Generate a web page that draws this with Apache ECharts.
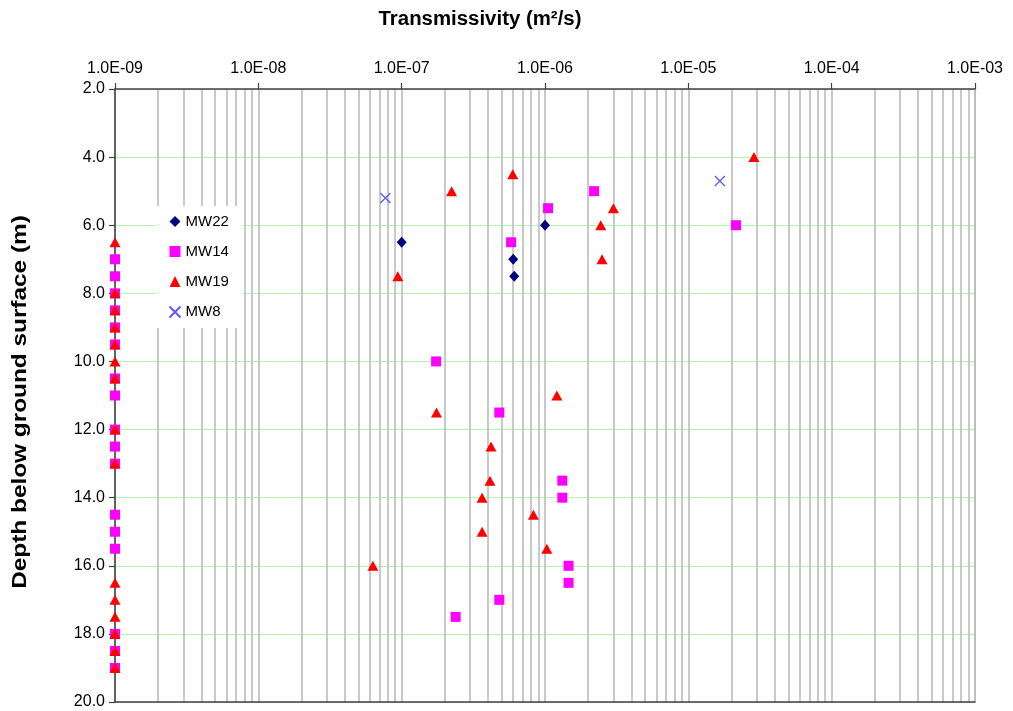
<!DOCTYPE html>
<html>
<head>
<meta charset="utf-8">
<script src="https://cdn.jsdelivr.net/npm/echarts@6/dist/echarts.min.js"></script>
<style>
  html, body { margin: 0; padding: 0; background: #ffffff; }
  #chart { width: 1013px; height: 711px; }
</style>
</head>
<body>
<div id="chart"></div>
<script>
// Decade labels for the transmissivity axis (1e-9 .. 1e-3)
const xTickLabels = ['1.0E-09', '1.0E-08', '1.0E-07', '1.0E-06', '1.0E-05', '1.0E-04', '1.0E-03'];

// [transmissivity (m2/s), depth (m)]
const mw22 = [
  [1.0e-7, 6.5], [6.0e-7, 7.0], [6.1e-7, 7.5], [1.0e-6, 6.0]
];
const mw14 = [
  [2.2e-6, 5.0], [1.05e-6, 5.5], [5.8e-7, 6.5], [2.15e-5, 6.0],
  [1.74e-7, 10.0], [4.8e-7, 11.5], [1.32e-6, 13.5], [1.32e-6, 14.0],
  [1.46e-6, 16.0], [1.46e-6, 16.5], [4.8e-7, 17.0], [2.38e-7, 17.5],
  [1e-9, 7.0], [1e-9, 7.5], [1e-9, 8.0], [1e-9, 8.5], [1e-9, 9.0], [1e-9, 9.5],
  [1e-9, 10.5], [1e-9, 11.0], [1e-9, 12.0], [1e-9, 12.5], [1e-9, 13.0],
  [1e-9, 14.5], [1e-9, 15.0], [1e-9, 15.5], [1e-9, 18.0], [1e-9, 18.5], [1e-9, 19.0]
];
const mw19 = [
  [2.87e-5, 4.0], [5.96e-7, 4.5], [2.23e-7, 5.0], [3.0e-6, 5.5], [2.45e-6, 6.0],
  [2.5e-6, 7.0], [9.4e-8, 7.5], [1.21e-6, 11.0], [1.75e-7, 11.5], [4.2e-7, 12.5],
  [4.13e-7, 13.5], [3.64e-7, 14.0], [8.3e-7, 14.5], [3.64e-7, 15.0], [1.03e-6, 15.5],
  [6.3e-8, 16.0],
  [1e-9, 6.5], [1e-9, 8.0], [1e-9, 8.5], [1e-9, 9.0], [1e-9, 9.5], [1e-9, 10.0],
  [1e-9, 10.5], [1e-9, 12.0], [1e-9, 13.0], [1e-9, 16.5], [1e-9, 17.0], [1e-9, 17.5],
  [1e-9, 18.0], [1e-9, 18.5], [1e-9, 19.0]
];
const mw8 = [
  [7.7e-8, 5.2], [1.66e-5, 4.7]
];

// Depth range of the plot
const depthMin = 2;
const depthMax = 20;

// Intermediate log gridlines: 2..9 within each decade
const minorGrid = [];
for (let e = -9; e < -3; e++) {
  for (let m = 2; m <= 9; m++) minorGrid.push(m * Math.pow(10, e));
}

const FONT = '"Liberation Sans", Arial, sans-serif';
const crossPath = 'path://M0,0L10,10M10,0L0,10';

const chart = echarts.init(document.getElementById('chart'), null, { renderer: 'canvas' });

const axisDark = '#404040';
const gridGrey = '#bcbcbc';

chart.setOption({
  animation: false,
  backgroundColor: '#ffffff',
  textStyle: { fontFamily: FONT },
  grid: { left: 115, right: 38, top: 89, bottom: 9, containLabel: false },
  legend: {
    orient: 'vertical',
    left: 155,
    top: 206,
    itemWidth: 11,
    itemHeight: 11,
    itemGap: 15,
    padding: [8, 14, 8, 12],
    backgroundColor: '#ffffff',
    textStyle: { fontFamily: FONT, fontSize: 15, color: '#000000' },
    data: ['MW22', 'MW14', 'MW19', 'MW8']
  },
  xAxis: [
    {
      type: 'log',
      logBase: 10,
      position: 'top',
      min: 1e-9,
      max: 1e-3,
      axisLine: { show: true, lineStyle: { color: axisDark, width: 1.5 } },
      axisTick: { show: true, inside: false, length: 6, lineStyle: { color: axisDark, width: 1.2 } },
      axisLabel: {
        show: true,
        margin: 12,
        fontSize: 16,
        color: '#000000',
        fontFamily: FONT,
        showMinLabel: true,
        showMaxLabel: true,
        formatter: function (v) {
          const i = Math.round(Math.log10(v)) + 9;
          return xTickLabels[i] || '';
        }
      },
      splitLine: { show: true, lineStyle: { color: gridGrey, width: 1.6 } }
    },
    {
      // plain baseline along the deepest depth
      type: 'log',
      logBase: 10,
      position: 'bottom',
      min: 1e-9,
      max: 1e-3,
      axisLine: { show: true, lineStyle: { color: axisDark, width: 1.5 } },
      axisTick: { show: false },
      axisLabel: { show: false },
      splitLine: { show: false }
    }
  ],
  yAxis: {
    type: 'value',
    inverse: true,
    min: depthMin,
    max: depthMax,
    interval: 2,
    axisLine: { show: true, lineStyle: { color: axisDark, width: 1.5 } },
    axisTick: { show: true, inside: false, length: 6, lineStyle: { color: axisDark, width: 1.2 } },
    axisLabel: {
      margin: 10,
      fontSize: 16,
      color: '#000000',
      fontFamily: FONT,
      formatter: function (v) { return v.toFixed(1); }
    },
    splitLine: { show: true, lineStyle: { color: '#b4f0b4', width: 1.2 } }
  },
  graphic: [
    {
      type: 'text',
      x: 480, y: 19,
      scaleX: 1.02,
      style: {
        text: 'Transmissivity (m²/s)',
        font: 'bold 20px ' + FONT,
        fill: '#000000',
        align: 'center',
        verticalAlign: 'middle'
      }
    },
    {
      type: 'text',
      x: 20, y: 402,
      rotation: Math.PI / 2,
      scaleX: 1.16,
      style: {
        text: 'Depth below ground surface (m)',
        font: 'bold 21px ' + FONT,
        fill: '#000000',
        align: 'center',
        verticalAlign: 'middle'
      }
    }
  ],
  series: [
    {
      name: 'gridlines',
      type: 'lines',
      coordinateSystem: 'cartesian2d',
      silent: true,
      z: 0,
      lineStyle: { color: gridGrey, width: 1.6, opacity: 1 },
      data: minorGrid.map(function (v) { return { coords: [[v, depthMin], [v, depthMax]] }; })
    },
    {
      name: 'MW22',
      type: 'scatter',
      symbol: 'diamond',
      symbolSize: [10, 11],
      itemStyle: { color: '#000080', opacity: 1 },
      data: mw22
    },
    {
      name: 'MW14',
      type: 'scatter',
      symbol: 'rect',
      symbolSize: 10,
      itemStyle: { color: '#ff00ff', opacity: 1 },
      data: mw14
    },
    {
      name: 'MW19',
      type: 'scatter',
      symbol: 'triangle',
      symbolSize: [11, 10],
      itemStyle: { color: '#ff0000', opacity: 1 },
      data: mw19
    },
    {
      name: 'MW8',
      type: 'scatter',
      symbol: crossPath,
      symbolSize: 10,
      itemStyle: { color: 'none', borderColor: '#5b5bff', borderWidth: 1.3, opacity: 1 },
      data: mw8
    }
  ]
});
</script>
</body>
</html>
